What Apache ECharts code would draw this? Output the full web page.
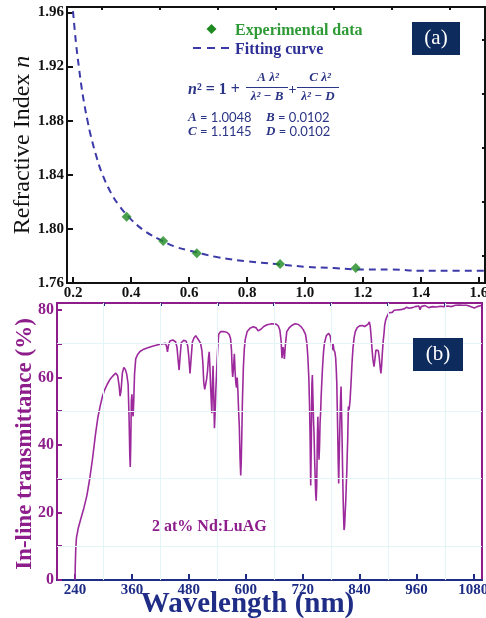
<!DOCTYPE html>
<html>
<head>
<meta charset="utf-8">
<script src="https://cdn.jsdelivr.net/npm/echarts@6/dist/echarts.min.js"></script>
<style>
html,body{margin:0;padding:0;background:#fff;}
#chart{width:486px;height:618px;}
</style>
</head>
<body>
<div id="chart"></div>
<script>
// ---------- Panel (a): refractive index ----------
const expLambda = [0.385, 0.511, 0.627, 0.914, 1.175];
const expN = [1.809, 1.791, 1.782, 1.774, 1.771];

const fitLambda = [0.20, 0.21, 0.22, 0.23, 0.24, 0.25, 0.26, 0.28, 0.30, 0.33, 0.36, 0.40, 0.45, 0.50, 0.55, 0.60, 0.70, 0.80, 0.90, 1.00, 1.10, 1.20, 1.30, 1.40, 1.50, 1.62];
const fitN = [1.961, 1.938, 1.920, 1.904, 1.891, 1.880, 1.870, 1.854, 1.841, 1.827, 1.817, 1.807, 1.798, 1.792, 1.787, 1.784, 1.779, 1.776, 1.774, 1.772, 1.771, 1.770, 1.770, 1.769, 1.769, 1.769];

const topXLabels = [0.2, 0.4, 0.6, 0.8, 1.0, 1.2, 1.4, 1.6];
const topXMinor = [0.3, 0.5, 0.7, 0.9, 1.1, 1.3, 1.5];
const topYLabels = [1.76, 1.80, 1.84, 1.88, 1.92, 1.96];
const topYMinor = [1.78, 1.82, 1.86, 1.90, 1.94];

// ---------- Panel (b): in-line transmittance ----------
const wavelength = [
240,240.5,241.5,243,247,253,259,265,271,277,283,288,293,298,303,308,314,320,326,330,
333,335,337,340,343,346,349,352,354,355.5,356.5,357.5,358.8,360,361.2,362.5,363.8,365.5,368,372,
377,385,395,405,415,425,431,433,435,437,440,446,452,455,457.5,459.5,461.5,464,469,474,
477.5,480,482.5,485,487.5,491,494.5,498,502,505,507.5,509.5,511.5,513.5,515.5,517.5,519.5,521.5,523,524.5,
526,528.5,529.8,531,532.5,534,535.5,537,539,541,543,547,553,560,565,568,570,571.5,572.5,574,
576,577.5,579,580.5,582,583.5,585,586.5,588,589.4,590.5,591.5,593,595,597,599,603,609,616,622,
626,629,632,638,645,655,664,669,672,674.5,676.5,678.5,680,681.5,683.5,686.5,692,698,704,711,
717,721.5,726,729,731,733,734.5,735.6,737,738.2,739.5,740.5,741.5,743,744,745.2,746.3,747.5,748.5,749.7,
750.8,752,753.3,754.5,755.7,756.7,758,759,760.5,762,764,766,770,775,778,780,782,784,786,788,
789.7,791,792,793,794,795,796,797.3,798.8,800,801,802,803,804.2,805.3,806.3,807.3,808.5,809.7,811,
812,813,814,815,816.4,818,820,822,824,826,828.5,831,835,840,846,851,855,858,860.6,862.5,
864.5,866,868,870.5,872.5,874.5,877,879.5,881.5,883.5,885,886.5,888,890,891.6,893,895,897,899.4,902,
905,909,913,918,922,927,931,935,939.5,944,948,952,957,961,965,967.5,970,974,978,982,
986,990,994,998,1002,1006,1010,1014,1018,1022,1026,1030,1034,1038,1042,1046,1050,1054,1058,1062,
1066,1070,1074,1078,1082,1085,1088,1092,1096
];
const transmittance = [
0,4,9,12.5,15.5,18.5,21.5,25,30,36,43,48,51.5,54.5,56.5,58,59.5,60.5,61.3,60.5,
57.5,54.5,56,61.5,63,62.4,61,58,48,37,33.5,40,53,55,50,48.5,53,61,65.5,66.8,
67.7,68.4,68.9,69.3,69.7,70,70.1,69.2,67.6,69.5,70.8,71.1,70.6,69,65,62.2,66,70.3,71,70.8,
69.5,66,61.2,66,70.5,71.8,72.4,72,70.8,70,68,64.5,58.5,56.5,57,59.5,62,66,67.6,63,
57,49.4,58,63.5,55,45,50,56.5,63,69,72.8,73.6,73.6,73.4,72.8,71.5,68,62,60.2,62.5,
67,62,58.5,57,60,56,50,45.4,36,31,35,41.5,53,63,68.5,71.3,73.6,74.6,75,74.7,
73.8,73.5,74.3,75.1,75.6,75.9,75.8,75.2,74,71,65.7,69,68,65.5,69.5,73.6,74.8,75.5,75.9,75.7,
75,74.1,72.8,70,66,60,52,43.5,28,40,58,60.7,55,47,43.5,36,31,25.5,23.5,28,
40,48.4,42,35.6,40,46.4,50,54.3,59,63.2,67.5,70.2,72.4,73.1,72.3,70.6,68.1,70.2,68.1,67.5,
65.7,62,58.3,51,43.5,35,28.6,38,47.4,54,57.3,50,43,33,25,19,14.8,16,20,23.7,
28,31.6,37,41.5,51.4,50.5,53.3,58.3,64,68.5,71.8,73.6,74.8,75.3,75.4,75.1,75.2,75.8,76.5,75.2,
72,69,65.5,63.2,65.5,68.1,68.6,68,66,63,61.2,63.5,67.2,71,73.1,75.5,77,77.8,78.5,79.2,
79.5,79.3,79.9,80,80.3,80.1,80.6,80.4,80.8,80.5,81,80.7,81,80.8,81.2,80.1,81,80.9,81.3,81,
80.7,81.2,81,81.4,80.9,81.3,81.1,81.5,81,81.3,81.2,81.5,81,81.3,81.4,81.1,81.5,81.2,81.4,81.1,
81.4,81.3,81.0,81.4,80.6,80.2,81,81.2,81.3
];
const botXLabels = [240, 360, 480, 600, 720, 840, 960, 1080];
const botXMinor = [300, 420, 540, 660, 780, 900, 1020];
const botYLabels = [0, 20, 40, 60, 80];
const botYTicks = [0, 10, 20, 30, 40, 50, 60, 70, 80];
const botGridX = [300, 420, 540, 660, 780, 900, 1020];
const botGridY = [10, 30, 50, 70];

// ---------- colours ----------
const BLACK = '#111111';
const PURPLE = '#8e1d8c';
const LINEPURPLE = '#9d2a9c';
const NAVY = '#1f2d86';
const GREEN = '#1f8a22';
const GREENTXT = '#2e9a36';
const FITBLUE = '#3b3aa8';
const FORMULA = '#2b3585';
const BOX = '#0d2b5d';
const SERIF = '"Liberation Serif", "DejaVu Serif", serif';
const CLEAR = 'rgba(0,0,0,0)';

const pairs = (xs, ys) => xs.map((x, i) => [x, ys[i]]);

const chart = echarts.init(document.getElementById('chart'), null, {renderer: 'canvas'});

const option = {
  backgroundColor: '#ffffff',
  animation: false,
  grid: [
    {left: 67, top: 7, width: 418, height: 276, show: true, borderColor: BLACK, borderWidth: 2, backgroundColor: 'transparent', outerBoundsMode: 'none', containLabel: false},
    {left: 57, top: 303, width: 425, height: 277, show: true, borderColor: PURPLE, borderWidth: 2, backgroundColor: 'transparent', outerBoundsMode: 'none', containLabel: false}
  ],
  xAxis: [
    {gridIndex: 0, type: 'value', min: 0.1793, max: 1.6207,
      axisLine: {lineStyle: {color: BLACK, width: 2}},
      axisTick: {inside: true, length: 6, lineStyle: {color: BLACK, width: 2}, customValues: topXLabels},
      axisLabel: {customValues: topXLabels, formatter: v => v.toFixed(1), color: BLACK, fontFamily: SERIF, fontWeight: 'bold', fontSize: 15, margin: 3},
      splitLine: {show: false}},
    {gridIndex: 0, type: 'value', min: 0.1793, max: 1.6207,
      axisLine: {show: false},
      axisTick: {inside: true, length: 3, lineStyle: {color: BLACK, width: 2}, customValues: topXMinor},
      axisLabel: {show: false}, splitLine: {show: false}},
    {gridIndex: 1, type: 'value', min: 202, max: 1098.2,
      name: 'Wavelength (nm)', nameLocation: 'middle', nameGap: 10, nameMoveOverlap: false,
      nameTextStyle: {color: NAVY, fontFamily: SERIF, fontWeight: 'bold', fontSize: 29, padding: [0, 44, 0, 0]},
      axisLine: {lineStyle: {color: NAVY, width: 2}},
      axisTick: {inside: true, length: 6, lineStyle: {color: NAVY, width: 2}, customValues: botXLabels},
      axisLabel: {customValues: botXLabels, formatter: v => String(v), color: NAVY, fontFamily: SERIF, fontWeight: 'bold', fontSize: 15, margin: 3},
      splitLine: {show: false}},
    {gridIndex: 1, type: 'value', min: 202, max: 1098.2,
      axisLine: {show: false},
      axisTick: {inside: true, length: 3, lineStyle: {color: NAVY, width: 2}, customValues: botXMinor},
      axisLabel: {show: false}, splitLine: {show: false}}
  ],
  yAxis: [
    {gridIndex: 0, type: 'value', min: 1.76, max: 1.964,
      name: 'Refractive Index {i|n}', nameLocation: 'middle', nameGap: 32, nameMoveOverlap: false,
      nameTextStyle: {color: BLACK, fontFamily: SERIF, fontSize: 24,
        rich: {i: {fontFamily: SERIF, fontSize: 24, fontStyle: 'italic', color: BLACK}}},
      axisLine: {lineStyle: {color: BLACK, width: 2}},
      axisTick: {inside: true, length: 6, lineStyle: {color: BLACK, width: 2}, customValues: topYLabels},
      axisLabel: {customValues: topYLabels, formatter: v => v.toFixed(2), color: BLACK, fontFamily: SERIF, fontWeight: 'bold', fontSize: 15, margin: 3},
      splitLine: {show: false}},
    {gridIndex: 0, type: 'value', min: 1.76, max: 1.964,
      axisLine: {show: false},
      axisTick: {inside: true, length: 3, lineStyle: {color: BLACK, width: 2}, customValues: topYMinor},
      axisLabel: {show: false}, splitLine: {show: false}},
    {gridIndex: 1, type: 'value', min: 0, max: 82.07,
      name: 'In-line transmittance (%)', nameLocation: 'middle', nameGap: 20, nameMoveOverlap: false,
      nameTextStyle: {color: PURPLE, fontFamily: SERIF, fontWeight: 'bold', fontSize: 23, padding: [0, 5, 0, 0]},
      axisLine: {lineStyle: {color: PURPLE, width: 2}},
      axisTick: {inside: true, length: 5, lineStyle: {color: PURPLE, width: 2}, customValues: botYTicks},
      axisLabel: {customValues: botYLabels, color: PURPLE, fontFamily: SERIF, fontWeight: 'bold', fontSize: 16, margin: 3},
      splitLine: {show: false}}
  ],
  legend: {
    orient: 'vertical', left: 193, top: 23, padding: 0,
    itemWidth: 37, itemHeight: 10, itemGap: 3,
    textStyle: {fontFamily: SERIF, fontWeight: 'bold', fontSize: 16},
    data: [
      {name: 'Experimental data', icon: 'rect', itemStyle: {color: CLEAR, borderWidth: 0}, textStyle: {color: GREENTXT}},
      {name: 'Fitting curve', icon: 'rect', itemStyle: {color: CLEAR, borderWidth: 0}, lineStyle: {opacity: 0}, textStyle: {color: '#2d2f95'}}
    ]
  },
  series: [
    {name: 'Fitting curve', type: 'line', xAxisIndex: 0, yAxisIndex: 0,
      data: pairs(fitLambda, fitN), smooth: 0.4, symbol: 'none', z: 2,
      lineStyle: {color: FITBLUE, width: 2, type: [7, 5]}, itemStyle: {color: FITBLUE}},
    {name: 'Experimental data', type: 'scatter', xAxisIndex: 0, yAxisIndex: 0,
      data: pairs(expLambda, expN), symbol: 'diamond', symbolSize: 10, z: 3,
      itemStyle: {color: GREEN}},
    {name: 'grid', type: 'line', xAxisIndex: 2, yAxisIndex: 2, data: [], silent: true, z: 1,
      markLine: {silent: true, symbol: 'none', label: {show: false},
        lineStyle: {color: '#e4f5f8', width: 1, type: 'solid'},
        data: botGridX.map(v => ({xAxis: v})).concat(botGridY.map(v => ({yAxis: v})))}},
    {name: 'Transmittance', type: 'line', xAxisIndex: 2, yAxisIndex: 2,
      data: pairs(wavelength, transmittance), symbol: 'none', z: 3,
      lineStyle: {color: LINEPURPLE, width: 1.6}, itemStyle: {color: LINEPURPLE}}
  ],
  graphic: [
    // legend keys
    {type: 'polygon', shape: {points: [[211.5, 24], [216.5, 29], [211.5, 34], [206.5, 29]]}, style: {fill: GREEN}},
    {type: 'line', shape: {x1: 193, y1: 48, x2: 231, y2: 48}, style: {stroke: FITBLUE, lineWidth: 2, lineDash: [8, 6]}},
    // formula
    {type: 'text', x: 188, y: 90, style: {text: '{v|n}{b|² = 1 +}', verticalAlign: 'middle', rich: {
      v: {fontFamily: SERIF, fontWeight: 'bold', fontStyle: 'italic', fontSize: 16, fill: FORMULA},
      b: {fontFamily: SERIF, fontWeight: 'bold', fontSize: 16, fill: FORMULA}}}},
    {type: 'text', x: 268, y: 78, style: {text: 'A λ²', fontFamily: SERIF, fontWeight: 'bold', fontStyle: 'italic', fontSize: 13, fill: FORMULA, align: 'center', verticalAlign: 'middle'}},
    {type: 'line', shape: {x1: 246, y1: 87.5, x2: 288, y2: 87.5}, style: {stroke: FORMULA, lineWidth: 1}},
    {type: 'text', x: 267, y: 97, style: {text: 'λ² − B', fontFamily: SERIF, fontWeight: 'bold', fontStyle: 'italic', fontSize: 13, fill: FORMULA, align: 'center', verticalAlign: 'middle'}},
    {type: 'text', x: 292.5, y: 90, style: {text: '+', fontFamily: SERIF, fontWeight: 'bold', fontSize: 14, fill: FORMULA, align: 'center', verticalAlign: 'middle'}},
    {type: 'text', x: 320, y: 78, style: {text: 'C λ²', fontFamily: SERIF, fontWeight: 'bold', fontStyle: 'italic', fontSize: 13, fill: FORMULA, align: 'center', verticalAlign: 'middle'}},
    {type: 'line', shape: {x1: 297, y1: 87.5, x2: 339, y2: 87.5}, style: {stroke: FORMULA, lineWidth: 1}},
    {type: 'text', x: 318, y: 97, style: {text: 'λ² − D', fontFamily: SERIF, fontWeight: 'bold', fontStyle: 'italic', fontSize: 13, fill: FORMULA, align: 'center', verticalAlign: 'middle'}},
    {type: 'text', x: 188, y: 118, style: {text: '{v|A} {b|= 1.0048}', verticalAlign: 'middle', rich: {
      v: {fontFamily: SERIF, fontWeight: 'bold', fontStyle: 'italic', fontSize: 13, fill: FORMULA},
      b: {fontFamily: 'Lato, "Liberation Sans", sans-serif', fontSize: 13, fill: FORMULA}}}},
    {type: 'text', x: 266, y: 118, style: {text: '{v|B} {b|= 0.0102}', verticalAlign: 'middle', rich: {
      v: {fontFamily: SERIF, fontWeight: 'bold', fontStyle: 'italic', fontSize: 13, fill: FORMULA},
      b: {fontFamily: 'Lato, "Liberation Sans", sans-serif', fontSize: 13, fill: FORMULA}}}},
    {type: 'text', x: 188, y: 132, style: {text: '{v|C} {b|= 1.1145}', verticalAlign: 'middle', rich: {
      v: {fontFamily: SERIF, fontWeight: 'bold', fontStyle: 'italic', fontSize: 13, fill: FORMULA},
      b: {fontFamily: 'Lato, "Liberation Sans", sans-serif', fontSize: 13, fill: FORMULA}}}},
    {type: 'text', x: 266, y: 132, style: {text: '{v|D} {b|= 0.0102}', verticalAlign: 'middle', rich: {
      v: {fontFamily: SERIF, fontWeight: 'bold', fontStyle: 'italic', fontSize: 13, fill: FORMULA},
      b: {fontFamily: 'Lato, "Liberation Sans", sans-serif', fontSize: 13, fill: FORMULA}}}},
    // panel labels
    {type: 'rect', shape: {x: 412, y: 22, width: 48, height: 33}, style: {fill: BOX}, z: 10},
    {type: 'text', x: 436, y: 38.5, z: 11, style: {text: '(a)', fontFamily: SERIF, fontSize: 21, fill: '#ffffff', align: 'center', verticalAlign: 'middle'}},
    {type: 'rect', shape: {x: 413, y: 338, width: 50, height: 33}, style: {fill: BOX}, z: 10},
    {type: 'text', x: 438, y: 354.5, z: 11, style: {text: '(b)', fontFamily: SERIF, fontSize: 21, fill: '#ffffff', align: 'center', verticalAlign: 'middle'}},
    // sample label
    {type: 'text', x: 152, y: 527, style: {text: '2 at% Nd:LuAG', fontFamily: SERIF, fontWeight: 'bold', fontSize: 16, fill: PURPLE, verticalAlign: 'middle'}}
  ]
};
chart.setOption(option);
</script>
</body>
</html>
